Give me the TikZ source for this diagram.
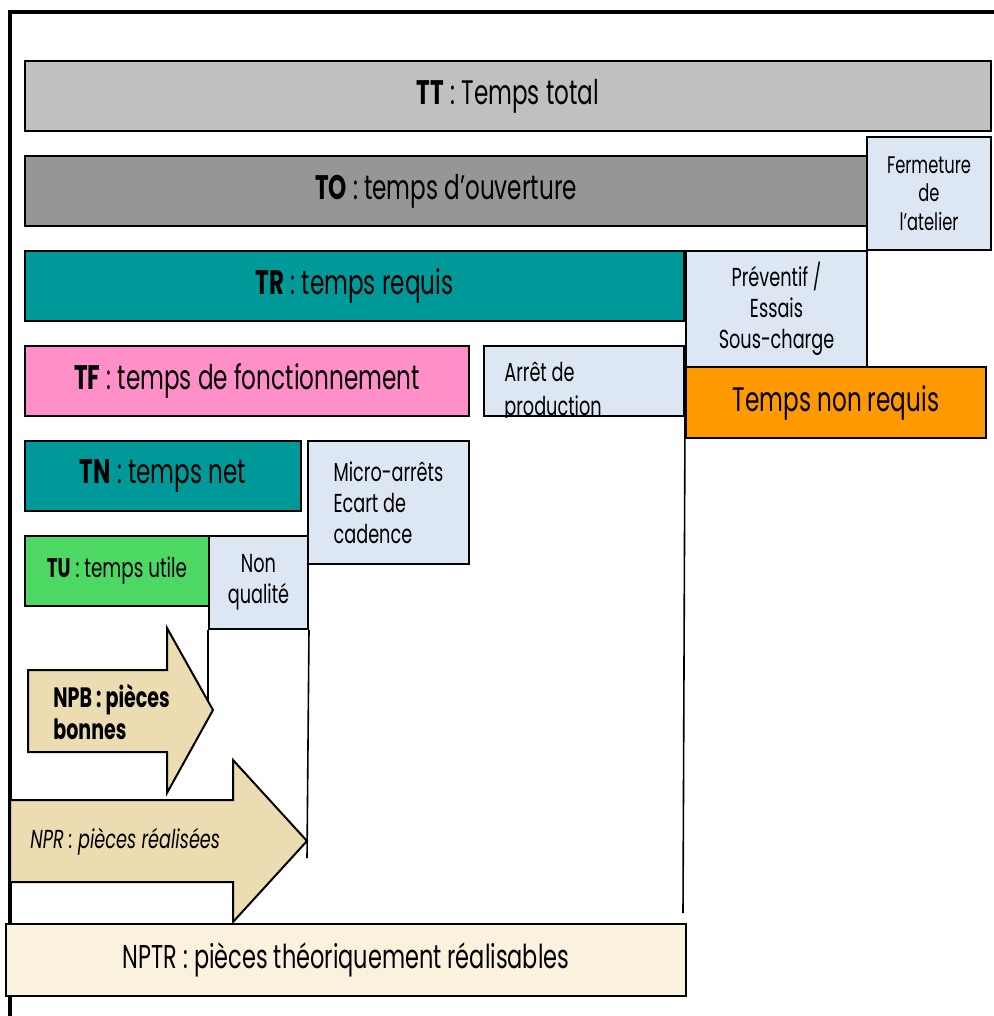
\documentclass[tikz,border=0pt]{standalone}
\usepackage{fontspec}
\setmainfont{Poppins}[FakeStretch=0.68]
\usetikzlibrary{positioning}
\definecolor{ttgray}{RGB}{192,192,192}
\definecolor{togray}{RGB}{150,150,150}
\definecolor{tealbar}{RGB}{0,153,153}
\definecolor{pinkbar}{RGB}{255,143,200}
\definecolor{greenbar}{RGB}{77,216,100}
\definecolor{orangebar}{RGB}{255,153,0}
\definecolor{lossblue}{RGB}{221,231,243}
\definecolor{cream}{RGB}{250,242,220}
\definecolor{tan}{RGB}{235,220,178}
\tikzstyle{bar} = [draw=black, line width=1pt, inner sep=0pt, anchor=north west, text=black, font=\fontsize{17}{20}\selectfont]
\tikzstyle{loss} = [bar, fill=lossblue, align=center, font=\fontsize{13}{15.5}\selectfont]
\tikzstyle{piece} = [draw=black, line width=1pt, fill=tan]
\tikzstyle{textonly} = [draw=none, fill=none, inner sep=0pt, text=black]
\tikzstyle{tline} = [draw, line width=0.8pt]

\begin{document}
\begin{tikzpicture}[x=0.5pt, y=-0.5pt]

\useasboundingbox (0,0) rectangle (994,1016);

% frame
\draw[line width=1.6pt] (10,1016) -- (10,12) -- (994,12);

% time bars =============================
\node[bar, fill=ttgray, minimum width=483pt, minimum height=35pt] (TT) at (24,60) {\textbf{TT} : Temps total};
\node[bar, fill=togray, minimum width=421pt, minimum height=35pt] (TO) at (24,155) {\textbf{TO} : temps d'ouverture};
\node[bar, fill=tealbar, minimum width=329.5pt, minimum height=35pt] (TR) at (24,250) {\textbf{TR} : temps requis};
\node[bar, fill=pinkbar, minimum width=222pt, minimum height=35pt] (TF) at (24,345) {\textbf{TF} : temps de fonctionnement};
\node[bar, fill=tealbar, minimum width=138pt, minimum height=35pt] (TN) at (24,440) {\textbf{TN} : temps net};
\node[bar, fill=greenbar, minimum width=92pt, minimum height=35pt, font=\fontsize{13.5}{16}\selectfont] (TU) at (24,535) {\textbf{TU} : temps utile};

% losses
\node[loss, minimum width=62pt, minimum height=56.5pt, font=\fontsize{12}{14.3}\selectfont] (fermeture) at (866,136) {Fermeture\\de\\l'atelier};
\node[loss, minimum width=90.5pt, minimum height=58pt] (preventif) at (685,250) {Préventif /\\Essais\\Sous-charge};
\node[bar, fill=orangebar, minimum width=150pt, minimum height=35.5pt] (nonrequis) at (685,366) {Temps non requis};
\node[loss, minimum width=100pt, minimum height=35pt] (arret) at (483,345) {};
\node[loss, align=left, minimum width=80.5pt, minimum height=61.5pt] (micro) at (307,440) {Micro-arrêts\\Ecart de\\cadence};
\node[loss, minimum width=49.5pt, minimum height=46.5pt] (nonqual) at (208,535) {Non\\qualité};

% clipped text of the stop box
\begin{scope}
\clip (arret.south west) rectangle (arret.north east);
\node[textonly, align=left, font=\fontsize{13}{17}\selectfont, anchor=north west] (arrettxt) at (504,362) {Arrêt de\\production};
\end{scope}

% limit lines
\coordinate (endNPB) at (208,712);
\coordinate (endNPR) at (307,858);
\coordinate (endNPTR) at (683,913);
\path[tline] (nonqual.south west) -- (endNPB);
\path[tline] (nonqual.south east) -- (endNPR);
\path[tline] (arret.south east) -- (endNPTR);

% pieces =============================
\draw[piece] (28,670) -- (167,670) -- (167,628) -- (213,710) -- (167,793) -- (167,752) -- (28,752) -- cycle;
\node[textonly, align=left, anchor=north west, font=\bfseries\fontsize{14}{16}\selectfont] (NPB) at (53,684) {NPB : pièces\\bonnes};

\draw[piece] (10,800) -- (233,800) -- (233,760) -- (307,841) -- (233,922) -- (233,882) -- (10,882) -- cycle;
\node[textonly, anchor=west, font=\itshape\fontsize{13}{15}\selectfont] (NPR) at (30,842) {NPR : pièces réalisées};

\node[bar, fill=cream, minimum width=340pt, minimum height=36pt, font=\fontsize{16.5}{19}\selectfont] (NPTR) at (5,923) {NPTR : pièces théoriquement réalisables};

\end{tikzpicture}
\end{document}
